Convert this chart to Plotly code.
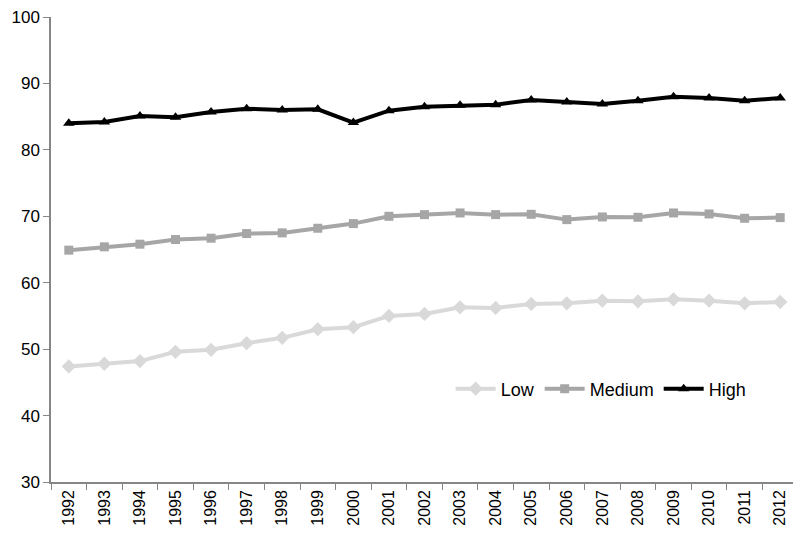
import plotly.graph_objects as go

years = [str(y) for y in range(1992, 2013)]
low = [47.4, 47.8, 48.2, 49.6, 49.9, 50.9, 51.7, 53.0, 53.3, 55.0, 55.3, 56.3, 56.2, 56.8, 56.9, 57.3, 57.2, 57.5, 57.3, 56.9, 57.1]
medium = [64.9, 65.4, 65.8, 66.5, 66.7, 67.4, 67.5, 68.2, 68.9, 70.0, 70.25, 70.5, 70.25, 70.3, 69.5, 69.9, 69.85, 70.5, 70.35, 69.7, 69.8]
high = [84.0, 84.2, 85.1, 84.9, 85.7, 86.2, 86.0, 86.1, 84.1, 85.9, 86.5, 86.7, 86.8, 87.5, 87.2, 86.9, 87.4, 88.0, 87.8, 87.4, 87.8]

fig = go.Figure()
fig.add_trace(go.Scatter(x=years, y=low, name="Low", mode="lines+markers",
                         line=dict(color="#d9d9d9", width=4),
                         marker=dict(symbol="diamond", size=11, color="#d9d9d9")))
fig.add_trace(go.Scatter(x=years, y=medium, name="Medium", mode="lines+markers",
                         line=dict(color="#a6a6a6", width=4),
                         marker=dict(symbol="square", size=9, color="#a6a6a6")))
fig.add_trace(go.Scatter(x=years, y=high, name="High", mode="lines+markers",
                         line=dict(color="#000000", width=4),
                         marker=dict(symbol="triangle-up", size=10, color="#000000")))

fig.update_layout(
    width=793, height=529,
    margin=dict(l=43, r=3, t=9, b=55, autoexpand=False),
    plot_bgcolor="white", paper_bgcolor="white",
    font=dict(family="Liberation Sans", size=16, color="#000000"),
    showlegend=True,
    legend=dict(orientation="h", x=0.535, y=0.2, xanchor="left", yanchor="middle",
                bgcolor="rgba(0,0,0,0)", font=dict(size=18), itemwidth=40,
                traceorder="normal"),
    xaxis=dict(type="category", range=[-0.5, 20.5], tickangle=-90, automargin=False,
               showline=True, linecolor="#868686", linewidth=1.5,
               ticks="outside", ticklen=6, tickcolor="#868686", tickson="boundaries",
               showgrid=False, zeroline=False, tickfont=dict(size=16)),
    yaxis=dict(range=[30, 100], dtick=10, automargin=False, ticklabeloverflow="allow",
               showline=True, linecolor="#868686", linewidth=1.5,
               ticks="outside", ticklen=6, tickcolor="#868686",
               showgrid=False, zeroline=False, tickfont=dict(size=17)),
)

fig.write_html("out.html")
